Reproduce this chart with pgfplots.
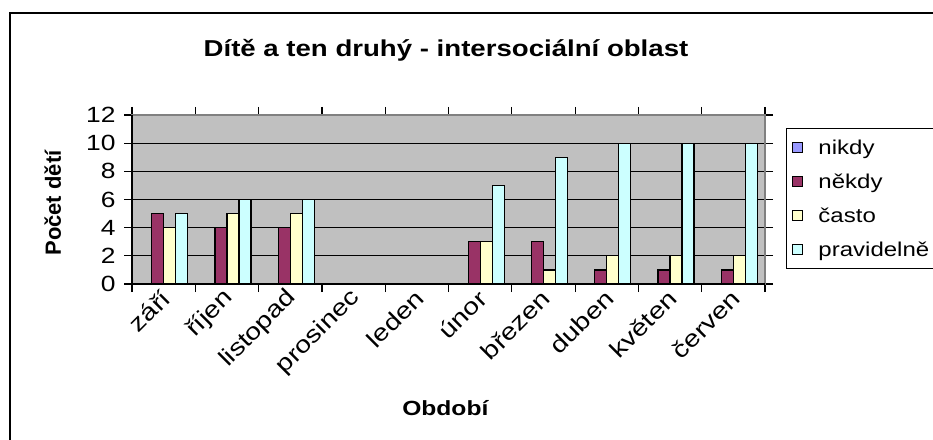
\documentclass[border=0pt]{standalone}
\usepackage{fontspec}
\setmainfont{Liberation Sans}[FakeStretch=1.2]
\newfontfamily\plainsans{Liberation Sans}
\usepackage{pgfplots}
\pgfplotsset{compat=1.18}
\definecolor{plotgray}{HTML}{C0C0C0}
\definecolor{cNikdy}{HTML}{9999FF}
\definecolor{cNekdy}{HTML}{993366}
\definecolor{cCasto}{HTML}{FFFFCC}
\definecolor{cPrav}{HTML}{CCFFFF}
\definecolor{bordgray}{HTML}{808080}
\begin{document}
\begin{tikzpicture}[x=1pt,y=1pt]
\useasboundingbox (0,0) rectangle (933,439);
\clip (0,0) rectangle (933,439);
\draw[line width=2pt] (10,-10) -- (10,426) -- (945,426);
\begin{axis}[
  at={(132pt,155pt)}, anchor=south west, scale only axis,
  width=633pt, height=169pt,
  xmin=-0.5, xmax=9.5, ymin=0, ymax=12,
  ytick={0,2,...,12},
  xtick={0,...,9},
  xticklabels={září,říjen,listopad,prosinec,leden,únor,březen,duben,květen,červen},
  minor xtick={-0.5,0.5,...,9.5},
  major x tick style={draw=none},
  minor x tick style={black, line width=1.2pt},
  ytick style={black, line width=1.2pt},
  tick align=outside,
  major tick length=8pt, minor tick length=8pt,
  ymajorgrids, major grid style={black, line width=1.2pt},
  axis background/.style={fill=plotgray},
  axis line style={bordgray, line width=1.2pt},
  /pgf/number format/assume math mode=true,
  ticklabel style={font=\fontsize{22}{26}\selectfont},
  yticklabel style={xshift=-5pt},
  xticklabel style={font=\fontsize{23.5}{28}\selectfont, xshift=5pt, yshift=0pt, rotate=45, anchor=east},
  ybar=0pt, bar width=12pt,
  clip=false,
  every axis plot/.append style={draw=black, line width=1.2pt},
  title={Dítě a ten druhý - intersociální oblast},
  title style={at={(axis description cs:0.496,1.35)}, anchor=center, font=\bfseries\fontsize{23}{28}\selectfont},
  xlabel={Období},
  xlabel style={at={(axis description cs:0.495,-0.734)}, anchor=center, font=\bfseries\fontsize{20.5}{24}\selectfont},
  ylabel={Počet dětí},
  ylabel style={at={(axis description cs:-0.125,0.479)}, anchor=center, font=\plainsans\bfseries\fontsize{22}{26}\selectfont},
  legend style={at={(axis description cs:1.033,0.923)}, anchor=north west, draw=black, line width=1.2pt, fill=white,
    font=\fontsize{20}{24}\selectfont, row sep=14pt, inner xsep=6pt, inner ysep=9pt,
    /tikz/every odd column/.style={column sep=13pt}},
  legend cell align=left,
  legend image code/.code={\draw[#1,/tikz/.cd,draw=black,line width=1pt] (0pt,-5pt) rectangle (10pt,5pt);},
]
\addplot[fill=cNikdy] coordinates {(0,0) (1,0) (2,0) (5,0) (6,0) (7,0) (8,0) (9,0)};
\addplot[fill=cNekdy] coordinates {(0,5) (1,4) (2,4) (5,3) (6,3) (7,1) (8,1) (9,1)};
\addplot[fill=cCasto] coordinates {(0,4) (1,5) (2,5) (5,3) (6,1) (7,2) (8,2) (9,2)};
\addplot[fill=cPrav] coordinates {(0,5) (1,6) (2,6) (5,7) (6,9) (7,10) (8,10) (9,10)};
\legend{nikdy,někdy,často,pravidelně}
\draw[black, line width=1.4pt] (rel axis cs:0,1) -- (rel axis cs:0,0) -- (rel axis cs:1,0);
\end{axis}
\end{tikzpicture}
\end{document}
